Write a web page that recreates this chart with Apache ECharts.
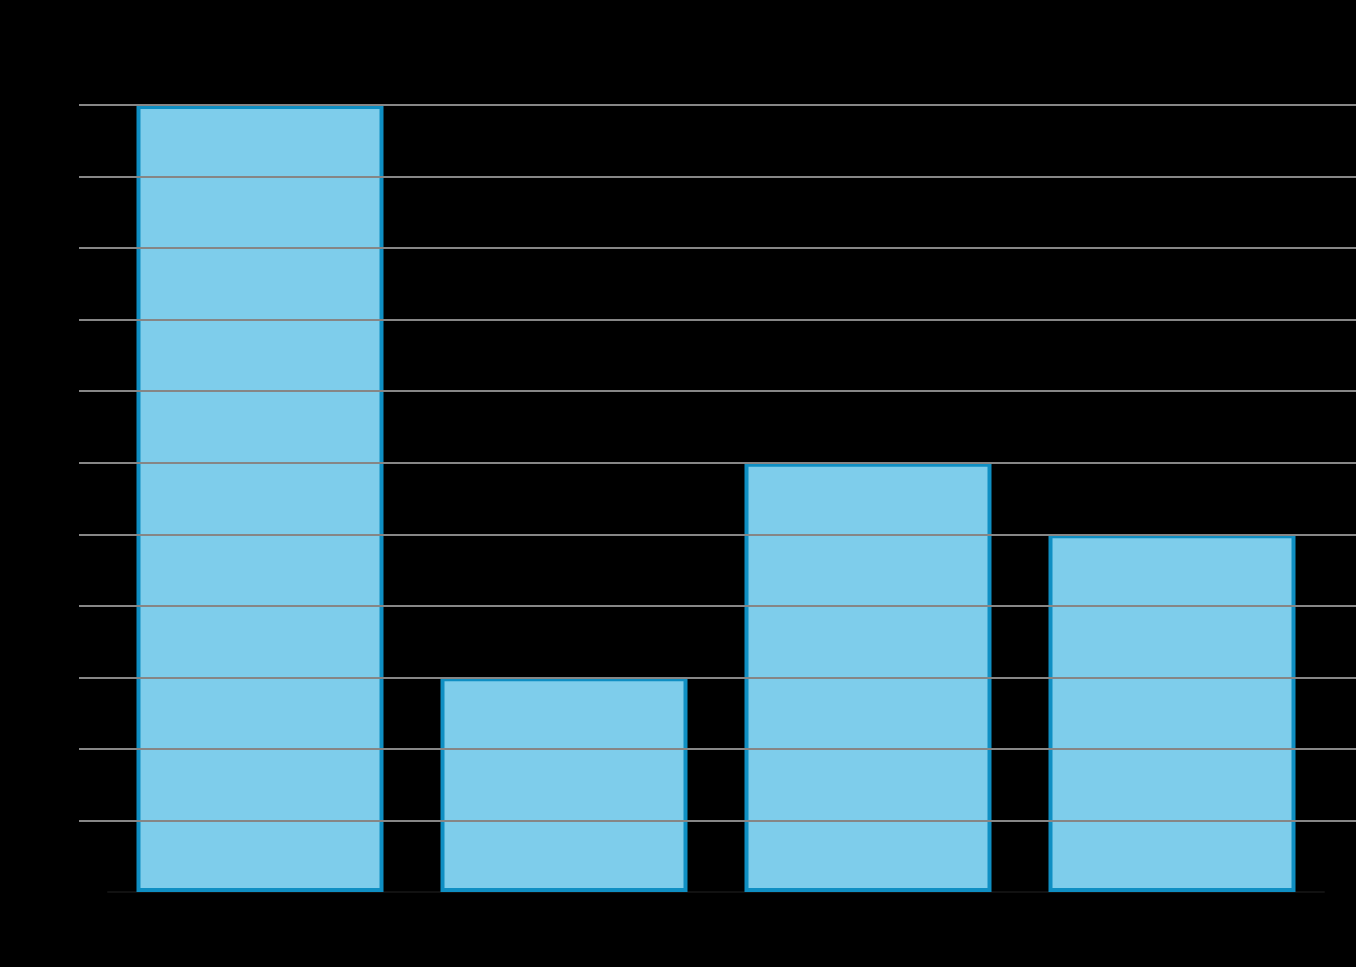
<!DOCTYPE html>
<html>
<head>
<meta charset="utf-8">
<script src="https://cdn.jsdelivr.net/npm/echarts@6/dist/echarts.min.js"></script>
<style>html,body{margin:0;padding:0;background:#000;}#c{width:1356px;height:967px;}</style>
</head>
<body>
<div id="c"></div>
<script>
const categories = ['1', '2', '3', '4'];
const values = [11, 3, 6, 5];
const yTicks = [0, 1, 2, 3, 4, 5, 6, 7, 8, 9, 10, 11];

const chart = echarts.init(document.getElementById('c'), null, {renderer: 'canvas'});
const yMax = yTicks[yTicks.length - 1];
chart.setOption({
  backgroundColor: '#000000',
  animation: false,
  grid: [
    {left: 79, right: 0, top: 105, bottom: 75},
    {left: 108, right: 32, top: 105, bottom: 75}
  ],
  xAxis: [
    {gridIndex: 0, type: 'value', show: false, min: 0, max: 1},
    {gridIndex: 1, type: 'category', data: categories,
     axisLine: {show: true, lineStyle: {color: '#111111', width: 2}},
     axisTick: {show: false}, axisLabel: {show: false}}
  ],
  yAxis: [
    {gridIndex: 0, type: 'value', min: 0, max: yMax, interval: 1, z: 10,
     axisLine: {show: false}, axisTick: {show: false},
     axisLabel: {color: '#000000', fontFamily: 'Noto Sans', fontSize: 16},
     splitLine: {show: true, showMinLine: false, lineStyle: {color: '#868686', width: 2}}},
    {gridIndex: 1, type: 'value', min: 0, max: yMax, interval: 1,
     axisLine: {show: false}, axisTick: {show: false}, axisLabel: {show: false},
     splitLine: {show: false}}
  ],
  series: [{
    type: 'bar',
    xAxisIndex: 1, yAxisIndex: 1,
    data: values,
    barWidth: 247,
    itemStyle: {color: '#7ecdeb', borderColor: '#0f8fc3', borderWidth: 4}
  }]
});
</script>
</body>
</html>
